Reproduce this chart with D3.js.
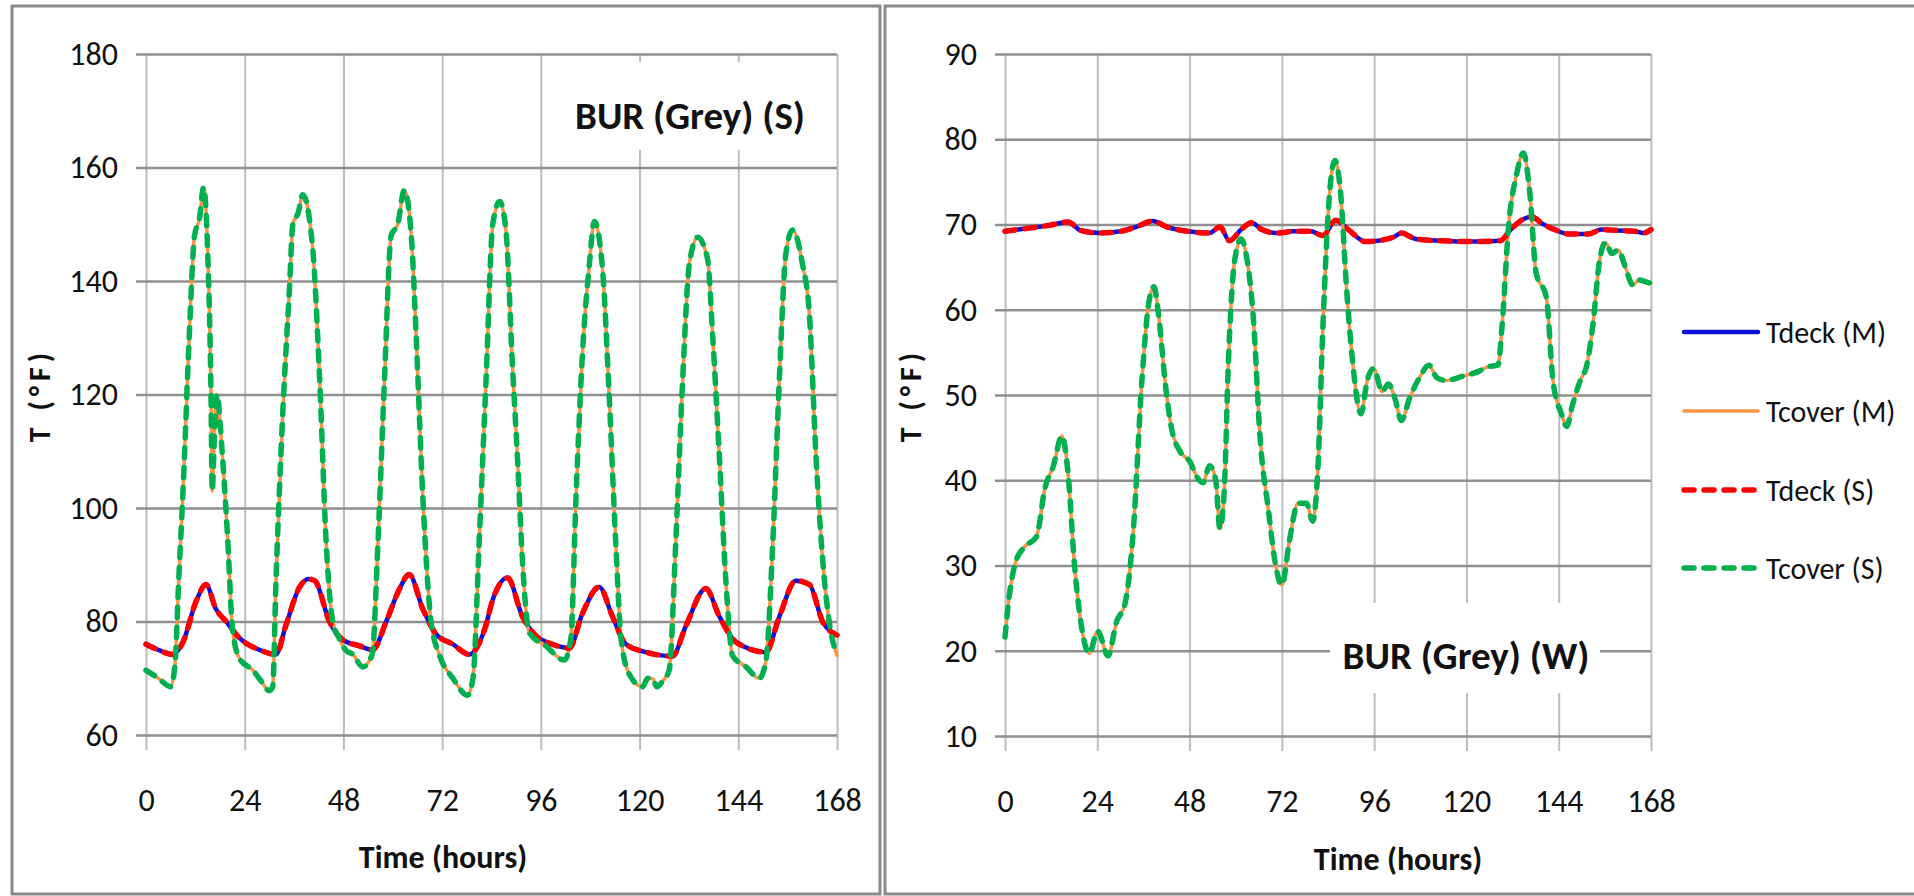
<!DOCTYPE html>
<html>
<head>
<meta charset="utf-8">
<script src="https://cdn.jsdelivr.net/npm/d3@7"></script>
<style>
  body { margin: 0; background: #fff; }
  svg { display: block; }
  text { font-family: Carlito, "Liberation Sans Narrow", "Open Sans", sans-serif; fill: #111; }
</style>
</head>
<body>
<svg id="chart"></svg>
<script>
var width = 1914;
var height = 896;

// ticks
var hourTicks = [0, 24, 48, 72, 96, 120, 144, 168];
var summerTicks = [60, 80, 100, 120, 140, 160, 180];
var winterTicks = [10, 20, 30, 40, 50, 60, 70, 80, 90];

// summer (S panel) - [hour, °F]
var summerDeck = [
  [0, 76], [3, 75], [6.5, 74.2], [9, 76.4], [12.2, 83.6], [14.6, 86.5], [17, 82.2], [19.5, 80],
  [22.7, 77.1], [27.6, 75], [31.6, 74.2], [34, 79.3], [37.3, 86], [39.5, 87.5], [41, 87.2],
  [44.6, 80], [47.8, 76.8], [51.9, 75.7], [55.1, 75], [58.4, 80], [61.6, 85.7], [64, 88.3],
  [67.3, 82.2], [70.5, 77.8], [74.6, 76], [78.6, 74.2], [80.5, 75.5], [82.5, 79], [84.2, 83.6],
  [87.9, 87.7], [91.5, 80.9], [94.8, 77.5], [98.8, 76], [102.9, 75.3], [106.1, 81.4], [110.2, 86.1],
  [113.4, 80.9], [116.7, 76], [121.5, 74.6], [128, 73.9], [131.3, 79.3], [136.1, 85.8], [139.4, 80.9],
  [143.4, 76.4], [150.7, 74.6], [154, 80.9], [158, 87.2], [161.3, 86.5], [164.5, 80], [168, 77.6]
];
var summerCover = [
  [0, 71.4], [3, 70], [6, 68.5], [7, 72], [8, 88], [9, 103], [10.5, 130], [11.8, 148], [13, 151],
  [14, 156.5], [15, 145], [15.8, 120], [16.1, 103], [16.6, 112], [17.2, 120], [18.6, 109], [19.9, 94],
  [21, 79], [22.7, 73.5], [26, 71.4], [28, 69.5], [30, 67.8], [30.8, 68.5], [31.6, 87], [33.2, 116],
  [34.9, 139], [35.7, 150], [37, 152], [38.1, 155.2], [40.5, 146], [42.2, 123], [43.8, 94], [45.4, 80],
  [47, 77], [48.5, 75], [50.3, 74.2], [52.7, 72], [55, 74.2], [56.4, 94], [58, 123], [59.6, 148],
  [61.2, 150], [62.8, 156], [64.5, 148], [65.7, 130], [67.3, 102], [69.3, 80], [71.4, 74], [74.6, 70],
  [78.2, 67], [79.5, 70], [81, 94], [82.7, 123], [84.3, 150], [86, 154], [87.5, 149], [89.1, 125],
  [90.3, 109], [91.5, 91], [93.2, 78], [97.2, 75.7], [101.7, 73.2], [103.3, 77], [104.5, 101],
  [106.1, 127], [107.8, 143], [109, 150.5], [111, 142], [112.6, 120], [114.2, 94], [115.5, 77],
  [117.5, 70.7], [120.7, 68.5], [122, 70], [123.2, 69.9], [124.2, 68.5], [125.6, 69.5], [127.2, 71.4],
  [128.8, 94], [130.5, 123], [132.1, 143], [134.1, 147.7], [136.5, 144], [137.8, 130], [139.4, 109],
  [141, 87], [142.6, 74], [145.9, 72], [149.1, 70], [150.7, 73], [152.4, 94], [154, 123], [155.6, 145],
  [157.2, 149], [159.6, 143], [161.3, 134], [162.9, 109], [164.5, 91], [166.1, 80], [168, 74]
];

// winter (W panel) - [hour, °F]
var winterDeck = [
  [0, 69.2], [4.9, 69.5], [11.5, 69.9], [16.4, 70.3], [19.7, 69.3], [24.7, 69], [30.1, 69.2],
  [34, 69.7], [38.4, 70.4], [42.2, 69.7], [47.7, 69.2], [53.2, 69], [55.9, 69.7], [58.4, 68.1],
  [61.4, 69.4], [64.1, 70.2], [66.8, 69.4], [70.7, 69], [75.1, 69.2], [79.5, 69.2], [82.7, 68.7],
  [86, 70.5], [89.3, 69.4], [93.7, 68], [97, 68.1], [101.4, 68.6], [103.1, 69], [106.8, 68.3],
  [113.4, 68.1], [121.1, 68], [128.8, 68.1], [131.5, 69.4], [134.3, 70.5], [137, 70.9], [139.7, 70.1],
  [143, 69.4], [146.3, 68.9], [151.8, 68.9], [155.1, 69.4], [159.5, 69.3], [163.8, 69.2], [166, 69],
  [168, 69.4]
];
var winterCover = [
  [0, 21.6], [1.1, 26.4], [2.7, 30.3], [4.9, 32.1], [8.2, 33.4], [10.4, 39.1], [12.6, 41.7],
  [14.8, 45.2], [16.4, 40.8], [18.1, 29.9], [19.7, 23.4], [21.9, 19.7], [24.1, 22.3], [26.8, 19.4],
  [29, 23.4], [31.2, 25.5], [33.4, 34.3], [35.6, 51.7], [37.3, 60.5], [38.7, 62.7], [40, 59.2],
  [41.6, 51.7], [43.3, 46.1], [45.5, 43.4], [48.2, 42.1], [49.9, 40.4], [51.5, 39.7], [53.2, 41.7],
  [54.8, 40], [55.9, 34.3], [57, 38.6], [58.1, 53.9], [59.7, 65.7], [61.4, 68.3], [63, 65.7],
  [64.7, 58.3], [66.3, 45.2], [68.5, 36.5], [70.1, 30.8], [72, 27.7], [74, 33], [76.2, 37.3],
  [78.4, 37.3], [80, 35.2], [81.4, 41.7], [82.7, 58.3], [84.4, 73.6], [85.8, 77.5], [87.3, 73.6],
  [88.8, 62.7], [90.4, 53.9], [92.6, 47.8], [94.2, 51.7], [95.9, 53.1], [98.1, 50.4], [99.7, 51.3],
  [101.4, 49.6], [103.1, 47], [105.2, 49.6], [108, 52.2], [110.2, 53.5], [112.4, 52], [114.6, 51.7],
  [119, 52.2], [123.3, 52.8], [125.5, 53.3], [128.2, 53.5], [129.3, 58.3], [131, 70], [133, 75.8],
  [134.8, 78.4], [136.5, 73.6], [138.1, 64.4], [140.8, 61.4], [142.5, 51.7], [144.7, 47.8],
  [146.1, 46.3], [147.5, 48.7], [149.6, 51.7], [151.3, 53.5], [152.9, 58.3], [154.6, 65.7],
  [156.2, 67.9], [157.8, 66.6], [159.5, 67], [161.1, 65.3], [163.3, 62.9], [164.9, 63.5],
  [166.5, 63.3], [168, 63.1]
];

var seriesNames = ['Tdeck (M)', 'Tcover (M)', 'Tdeck (S)', 'Tcover (S)'];

// model (M) and simulation (S) overlap in the picture
var styles = [
  { color: '#1010d8', width: 4.5, dash: null, cap: 'round' },
  { color: '#f79646', width: 3.5, dash: null, cap: 'round' },
  { color: '#ff0000', width: 5.5, dash: '10,10', cap: 'round' },
  { color: '#00b050', width: 5.5, dash: '10,10', cap: 'round' }
];

var svg = d3.select('#chart')
    .attr('width', width)
    .attr('height', height);

svg.append('rect').attr('width', width).attr('height', height).attr('fill', '#fff');

// panel frames
svg.append('rect')
    .attr('x', 12).attr('y', 6).attr('width', 868).attr('height', 888)
    .attr('fill', 'none').attr('stroke', '#8a8a8a').attr('stroke-width', 3);
svg.append('rect')
    .attr('x', 885).attr('y', 6).attr('width', 1040).attr('height', 888)
    .attr('fill', 'none').attr('stroke', '#8a8a8a').attr('stroke-width', 3);

function drawPanel(opt){
    var g = svg.append('g');

    var xScale = d3.scaleLinear()
                    .domain([0, 168])
                    .range([opt.left, opt.right]);
    var yScale = d3.scaleLinear()
                    .domain(opt.yDomain)
                    .range([opt.bottom, opt.top]);

    var plotW = opt.right - opt.left;
    var plotH = opt.bottom - opt.top;

    var xAxis = d3.axisBottom(xScale)
                    .tickValues(hourTicks)
                    .tickSize(-(plotH + 15))
                    .tickPadding(38)
                    .tickSizeOuter(0);
    var yAxis = d3.axisLeft(yScale)
                    .tickValues(opt.yTicks)
                    .tickSize(-(plotW + 10))
                    .tickPadding(18)
                    .tickSizeOuter(0);

    var gx = g.append('g')
        .attr('transform', 'translate(0,' + (opt.bottom + 15) + ')')
        .call(xAxis);
    gx.select('.domain').remove();
    gx.selectAll('line').attr('stroke', '#bdbdbd').attr('stroke-width', 2);
    gx.selectAll('text').style('font-size', '32px').attr('fill', '#111');

    var gy = g.append('g')
        .attr('transform', 'translate(' + (opt.left - 10) + ',0)')
        .call(yAxis);
    gy.select('.domain').remove();
    gy.selectAll('line').attr('stroke', '#8f8f8f').attr('stroke-width', 2.5);
    gy.selectAll('text').style('font-size', '32px').attr('fill', '#111');

    // title box (white, hides the grid behind it)
    g.append('rect')
        .attr('x', opt.titleBox[0]).attr('y', opt.titleBox[1])
        .attr('width', opt.titleBox[2]).attr('height', opt.titleBox[3])
        .attr('fill', '#fff');
    g.append('text')
        .attr('x', opt.titlePos[0])
        .attr('y', opt.titlePos[1])
        .attr('dy', '0.35em')
        .style('text-anchor', 'middle')
        .style('font-size', '39px')
        .style('font-weight', 'bold')
        .text(opt.title);

    var line = d3.line()
                .x(d => xScale(d[0]))
                .y(d => yScale(d[1]))
                .curve(d3.curveMonotoneX);

    var data = [opt.deck, opt.cover, opt.deck, opt.cover];
    data.forEach(function(d, i){
        g.append('path')
            .datum(d)
            .attr('d', line)
            .attr('fill', 'none')
            .attr('stroke', styles[i].color)
            .attr('stroke-width', styles[i].width)
            .attr('stroke-linecap', styles[i].cap)
            .attr('stroke-linejoin', 'round')
            .attr('stroke-dasharray', styles[i].dash);
    });

    // axis titles
    g.append('text')
        .attr('x', opt.xTitle[0])
        .attr('y', opt.xTitle[1])
        .attr('dy', '0.35em')
        .style('text-anchor', 'middle')
        .style('font-size', '32px')
        .style('font-weight', 'bold')
        .text('Time (hours)');

    g.append('text')
        .attr('transform', 'translate(' + opt.yTitle[0] + ',' + opt.yTitle[1] + ') rotate(-90)')
        .attr('dy', '0.35em')
        .style('text-anchor', 'middle')
        .style('font-size', '30px')
        .style('font-weight', 'bold')
        .style('letter-spacing', '5px')
        .text('T (°F)');
}

drawPanel({
    left: 146, right: 837, top: 54, bottom: 735,
    yDomain: [60, 180], yTicks: summerTicks,
    deck: summerDeck, cover: summerCover,
    title: 'BUR (Grey) (S)', titleBox: [555, 62, 273, 88], titlePos: [690, 115],
    xTitle: [443, 857], yTitle: [39, 395]
});

drawPanel({
    left: 1005, right: 1651, top: 54, bottom: 736,
    yDomain: [10, 90], yTicks: winterTicks,
    deck: winterDeck, cover: winterCover,
    title: 'BUR (Grey) (W)', titleBox: [1330, 603, 270, 90], titlePos: [1466, 655],
    xTitle: [1398, 859], yTitle: [910, 395]
});

// legend
var legendY = [332, 411, 490, 568];
var legend = svg.append('g');
seriesNames.forEach(function(name, i){
    legend.append('line')
        .attr('x1', 1684).attr('x2', 1758)
        .attr('y1', legendY[i]).attr('y2', legendY[i])
        .attr('stroke', styles[i].color)
        .attr('stroke-width', styles[i].width)
        .attr('stroke-linecap', styles[i].cap)
        .attr('stroke-dasharray', styles[i].dash);
    legend.append('text')
        .attr('x', 1766)
        .attr('y', legendY[i])
        .attr('dy', '0.35em')
        .style('font-size', '30px')
        .text(name);
});
</script>
</body>
</html>
